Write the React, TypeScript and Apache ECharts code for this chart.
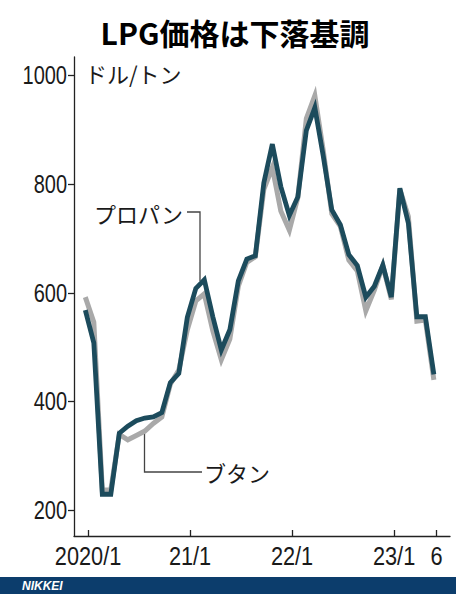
import React, { useEffect, useRef } from "react";
import * as echarts from "echarts";

// Monthly LPG contract prices, 2020/1 .. 2023/6 (USD per ton)
const propane2020 = [568, 508, 230, 230, 342, 355, 365, 370, 372, 380, 435, 452];
const propane2021 = [555, 608, 624, 556, 495, 532, 622, 662, 668, 802, 873, 795];
const propane2022 = [742, 776, 898, 940, 850, 752, 725, 670, 650, 592, 612, 651];
const propane2023 = [592, 792, 728, 556, 556, 450];

const butane2020 = [592, 546, 238, 238, 340, 330, 338, 346, 360, 372, 432, 458];
const butane2021 = [532, 585, 598, 530, 477, 515, 612, 656, 666, 790, 830, 750];
const butane2022 = [715, 775, 920, 962, 860, 745, 722, 660, 640, 567, 605, 650];
const butane2023 = [588, 790, 740, 548, 550, 440];

const propane = [...propane2020, ...propane2021, ...propane2022, ...propane2023];
const butane = [...butane2020, ...butane2021, ...butane2022, ...butane2023];

const xTickMonths = [0, 12, 24, 36, 41];
const xTickLabels = ["2020/1", "21/1", "22/1", "23/1", "6"];
const yTicks = [200, 400, 600, 800, 1000];
const yTickLabels = ["200", "400", "600", "800", "1000"];

const TITLE = "LPG価格は下落基調";
const UNIT = "ドル/トン";
const PROPANE_LABEL = "プロパン";
const BUTANE_LABEL = "ブタン";

export default function App() {
  const ref = useRef<HTMLDivElement>(null);

  useEffect(() => {
    if (!ref.current) return;
    const chart = echarts.init(ref.current, null, { renderer: "svg" });
    const numFont = '"Liberation Sans", Arial, sans-serif';
    const jpFont = '"Noto Sans CJK JP", "Noto Sans", sans-serif';
    const TICK_SHIFT = 0.32;
    const X_MIN = -1.33;
    const X_MAX = 42.9;
    const Y_MIN = 153.3;
    const Y_MAX = 1033;
    const xTickPos = xTickMonths.map((m) => m + TICK_SHIFT);
    const axisColor = "#222";

    const textStyle = (
      text: string,
      font: string,
      fill: string,
      align: string,
      vAlign: string
    ) => ({
      text,
      font,
      fill,
      align,
      verticalAlign: vAlign,
      textAlign: align,
      textVerticalAlign: vAlign,
    });

    chart.setOption({
      animation: false,
      backgroundColor: "#ffffff",
      grid: { left: 74, right: 6, top: 57, bottom: 58, containLabel: false },
      xAxis: {
        type: "value",
        min: X_MIN,
        max: X_MAX,
        axisLine: { show: true, onZero: false, lineStyle: { color: axisColor, width: 1.3 } },
        axisTick: {
          show: true,
          inside: true,
          length: 6,
          customValues: xTickPos,
          lineStyle: { color: axisColor, width: 1.3 },
        },
        axisLabel: { show: false },
        splitLine: { show: false },
      },
      yAxis: {
        type: "value",
        min: Y_MIN,
        max: Y_MAX,
        axisLine: { show: true, onZero: false, lineStyle: { color: axisColor, width: 1.3 } },
        axisTick: {
          show: true,
          inside: false,
          length: 6,
          customValues: yTicks,
          lineStyle: { color: axisColor, width: 1.3 },
        },
        axisLabel: { show: false },
        splitLine: { show: false },
      },
      series: [
        {
          name: BUTANE_LABEL,
          type: "line",
          data: butane.map((v, i) => [i, v]),
          symbol: "none",
          lineStyle: { color: "#a9a9a9", width: 5, join: "miter" },
          z: 2,
        },
        {
          name: PROPANE_LABEL,
          type: "line",
          data: propane.map((v, i) => [i, v]),
          symbol: "none",
          lineStyle: { color: "#1c4b5c", width: 4.8, join: "miter" },
          z: 3,
        },
      ],
    });

    // Tick labels placed through the chart's own scales (condensed look via scaleX)
    const labelEls: any[] = [];
    yTicks.forEach((v, i) => {
      const p = chart.convertToPixel({ gridIndex: 0 }, [X_MIN, v]) as number[];
      labelEls.push({
        type: "text",
        x: p[0] - 7,
        y: p[1] + 0.5,
        scaleX: 0.8,
        style: textStyle(yTickLabels[i], `25px ${numFont}`, "#1a1a1a", "right", "middle"),
      });
    });
    xTickPos.forEach((v, i) => {
      const p = chart.convertToPixel({ gridIndex: 0 }, [v, Y_MIN]) as number[];
      labelEls.push({
        type: "text",
        x: p[0],
        y: p[1] + 20.5,
        scaleX: 0.87,
        style: textStyle(xTickLabels[i], `25px ${numFont}`, "#1a1a1a", "center", "middle"),
      });
    });

    chart.setOption({
      graphic: [
        ...labelEls,
        {
          type: "text",
          x: 235,
          y: 32,
          style: textStyle(TITLE, `bold 30px ${jpFont}`, "#000", "center", "middle"),
        },
        {
          type: "text",
          x: 85,
          y: 73,
          style: textStyle(UNIT, `22px ${jpFont}`, "#1a1a1a", "left", "middle"),
        },
        {
          type: "text",
          x: 94,
          y: 213,
          style: textStyle(PROPANE_LABEL, `22px ${jpFont}`, "#1a1a1a", "left", "middle"),
        },
        {
          type: "text",
          x: 204,
          y: 472,
          style: textStyle(BUTANE_LABEL, `22px ${jpFont}`, "#1a1a1a", "left", "middle"),
        },
        {
          type: "polyline",
          shape: { points: [[187, 212], [200, 212], [200, 281]] },
          style: { stroke: "#444", lineWidth: 1.3, fill: "none" },
          z: 1,
        },
        {
          type: "polyline",
          shape: { points: [[144.5, 432], [144.5, 472], [202, 472]] },
          style: { stroke: "#444", lineWidth: 1.3, fill: "none" },
          z: 1,
        },
        {
          type: "rect",
          shape: { x: 0, y: 577, width: 456, height: 17 },
          style: { fill: "#0c3d6c" },
        },
        {
          type: "text",
          x: 22,
          y: 586,
          style: textStyle(
            "NIKKEI",
            'italic bold 12px "Liberation Sans", Arial, sans-serif',
            "#ffffff",
            "left",
            "middle"
          ),
        },
      ],
    });

    return () => {
      chart.dispose();
    };
  }, []);

  return (
    <div
      ref={ref}
      style={{ position: "fixed", left: 0, top: 0, width: 456, height: 594, background: "#fff" }}
    />
  );
}
